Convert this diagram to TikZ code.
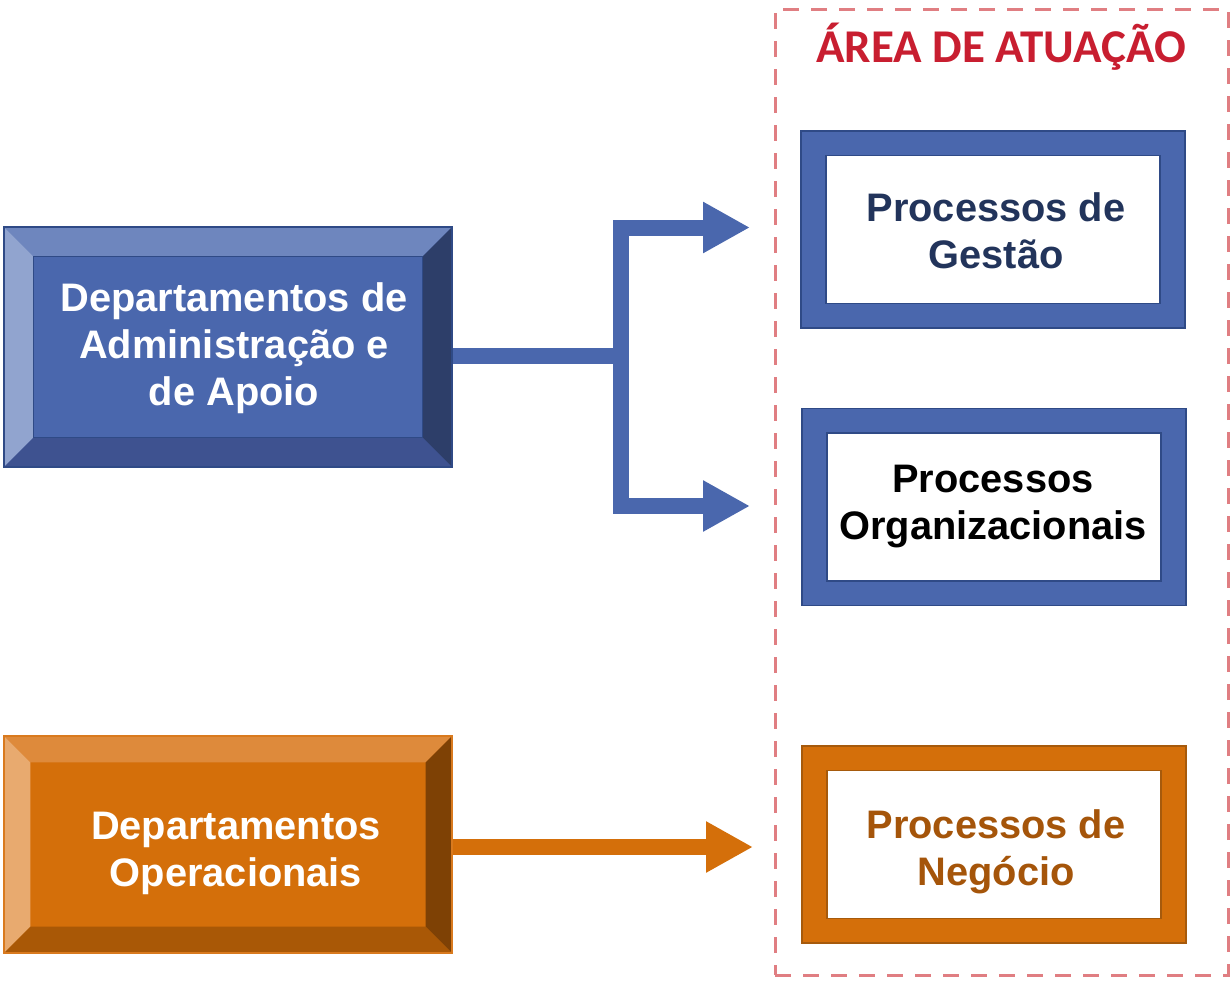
\documentclass[tikz,border=0pt]{standalone}
\usepackage{fontspec}
\setmainfont{Liberation Sans}
\newfontfamily\titlefont{Carlito}[BoldFont={Carlito Bold}]
\usetikzlibrary{arrows.meta,calc,backgrounds}
\definecolor{blueFace}{HTML}{4A67AD}
\definecolor{blueBorder}{HTML}{2F4A86}
\definecolor{blueTop}{HTML}{6E86BE}
\definecolor{blueLeft}{HTML}{91A4CF}
\definecolor{blueRight}{HTML}{2D3E69}
\definecolor{blueBottom}{HTML}{3E5290}
\definecolor{orFace}{HTML}{D46F0A}
\definecolor{orTop}{HTML}{DE8A3B}
\definecolor{orLeft}{HTML}{E8AA6F}
\definecolor{orRight}{HTML}{7E4105}
\definecolor{orBottom}{HTML}{A95806}
\definecolor{orBorder}{HTML}{D97A1E}
\definecolor{orFrameBorder}{HTML}{A65A0C}
\definecolor{dashRed}{HTML}{E07E82}
\definecolor{titleRed}{HTML}{C81E30}
\definecolor{navyText}{HTML}{22345B}
\definecolor{brownText}{HTML}{A5550A}
\tikzset{
  boxfont/.style={font=\fontsize{39.8}{47}\selectfont\bfseries},
  bevelbox/.style={minimum width=448pt, minimum height=240pt, inner sep=0pt, line width=1.2pt},
  bevelorange/.style={bevelbox, minimum height=217pt},
  boxtext/.style={boxfont, align=center, inner sep=0pt},
  frameouter/.style={minimum width=384pt, minimum height=197pt, inner sep=0pt, line width=1.2pt},
  frameinner/.style={fill=white, minimum width=334pt, minimum height=148pt, inner sep=0pt, line width=1.2pt},
  areabox/.style={draw=dashRed, line width=3pt, dash pattern=on 16pt off 12pt, minimum width=453pt, minimum height=966pt, inner sep=0pt},
  bluearrow/.style={draw=blueFace, line width=16pt},
  orarrow/.style={draw=orFace, line width=16pt},
  bigtip/.style={-{Triangle[length=47pt,width=48pt]}},
}
\begin{document}
\begin{tikzpicture}[x=1pt,y=-1pt]
\useasboundingbox (0,0) rectangle (1230,980);

% dashed area
\node[areabox] (area) at (1001.5,492) {};
\node[font=\titlefont\fontsize{47}{50}\selectfont\bfseries, text=titleRed, anchor=base, inner sep=0pt] (title) at (1001,62) {ÁREA DE ATUAÇÃO};

% blue bevel box
\node[bevelbox, draw=blueBorder] (dA) at (228,347) {};
\begin{scope}[on background layer]
  \fill[blueFace] (dA.north west) rectangle (dA.south east);
  \fill[blueTop] (dA.north west) -- (dA.north east) -- ($(dA.north east)+(-30,30)$) -- ($(dA.north west)+(30,30)$) -- cycle;
  \fill[blueLeft] (dA.north west) -- ($(dA.north west)+(30,30)$) -- ($(dA.south west)+(30,-30)$) -- (dA.south west) -- cycle;
  \fill[blueRight] (dA.north east) -- ($(dA.north east)+(-30,30)$) -- ($(dA.south east)+(-30,-30)$) -- (dA.south east) -- cycle;
  \fill[blueBottom] (dA.south west) -- ($(dA.south west)+(30,-30)$) -- ($(dA.south east)+(-30,-30)$) -- (dA.south east) -- cycle;
  \draw[blueBorder, line width=1pt] ($(dA.north west)+(30,30)$) rectangle ($(dA.south east)+(-30,-30)$);
\end{scope}
\node[boxtext, text=white] (tA) at (234,348.5) {Departamentos de\\Administração e\\de Apoio};

% orange bevel box
\node[bevelorange, draw=orBorder] (dO) at (228,844.5) {};
\begin{scope}[on background layer]
  \fill[orFace] (dO.north west) rectangle (dO.south east);
  \fill[orTop] (dO.north west) -- (dO.north east) -- ($(dO.north east)+(-27,27)$) -- ($(dO.north west)+(27,27)$) -- cycle;
  \fill[orLeft] (dO.north west) -- ($(dO.north west)+(27,27)$) -- ($(dO.south west)+(27,-27)$) -- (dO.south west) -- cycle;
  \fill[orRight] (dO.north east) -- ($(dO.north east)+(-27,27)$) -- ($(dO.south east)+(-27,-27)$) -- (dO.south east) -- cycle;
  \fill[orBottom] (dO.south west) -- ($(dO.south west)+(27,-27)$) -- ($(dO.south east)+(-27,-27)$) -- (dO.south east) -- cycle;
\end{scope}
\node[boxtext, text=white] (tO) at (236,853.5) {Departamentos\\Operacionais};

% right boxes
\node[frameouter, fill=blueFace, draw=blueBorder] (pG) at (993,229.5) {};
\node[frameinner, draw=blueBorder] (pGi) at (pG.center) {};
\node[boxtext, text=navyText] (tG) at (996,231) {Processos de\\Gestão};

\node[frameouter, fill=blueFace, draw=blueBorder] (pO) at (994,507) {};
\node[frameinner, draw=blueBorder] (pOi) at (pO.center) {};
\node[boxtext, text=black] (tOrg) at (993,506.5) {Processos\\Organizacionais};

\node[frameouter, fill=orFace, draw=orFrameBorder] (pN) at (994,844.5) {};
\node[frameinner, draw=orFrameBorder] (pNi) at (pN.center) {};
\node[boxtext, text=brownText] (tN) at (996,852) {Processos de\\Negócio};

% connectors
\coordinate (jn) at (620.5,356);
\coordinate (tipG) at (750,227.5);
\coordinate (tipO) at (750,506);
\coordinate (tipN) at (753,847);
\draw[bluearrow] (dA.east |- jn) -- (jn);
\draw[bluearrow, bigtip] (jn) |- (tipG);
\draw[bluearrow, bigtip] (jn) |- (tipO);
\draw[orarrow, bigtip] (dO.east |- tipN) -- (tipN);
\end{tikzpicture}
\end{document}
